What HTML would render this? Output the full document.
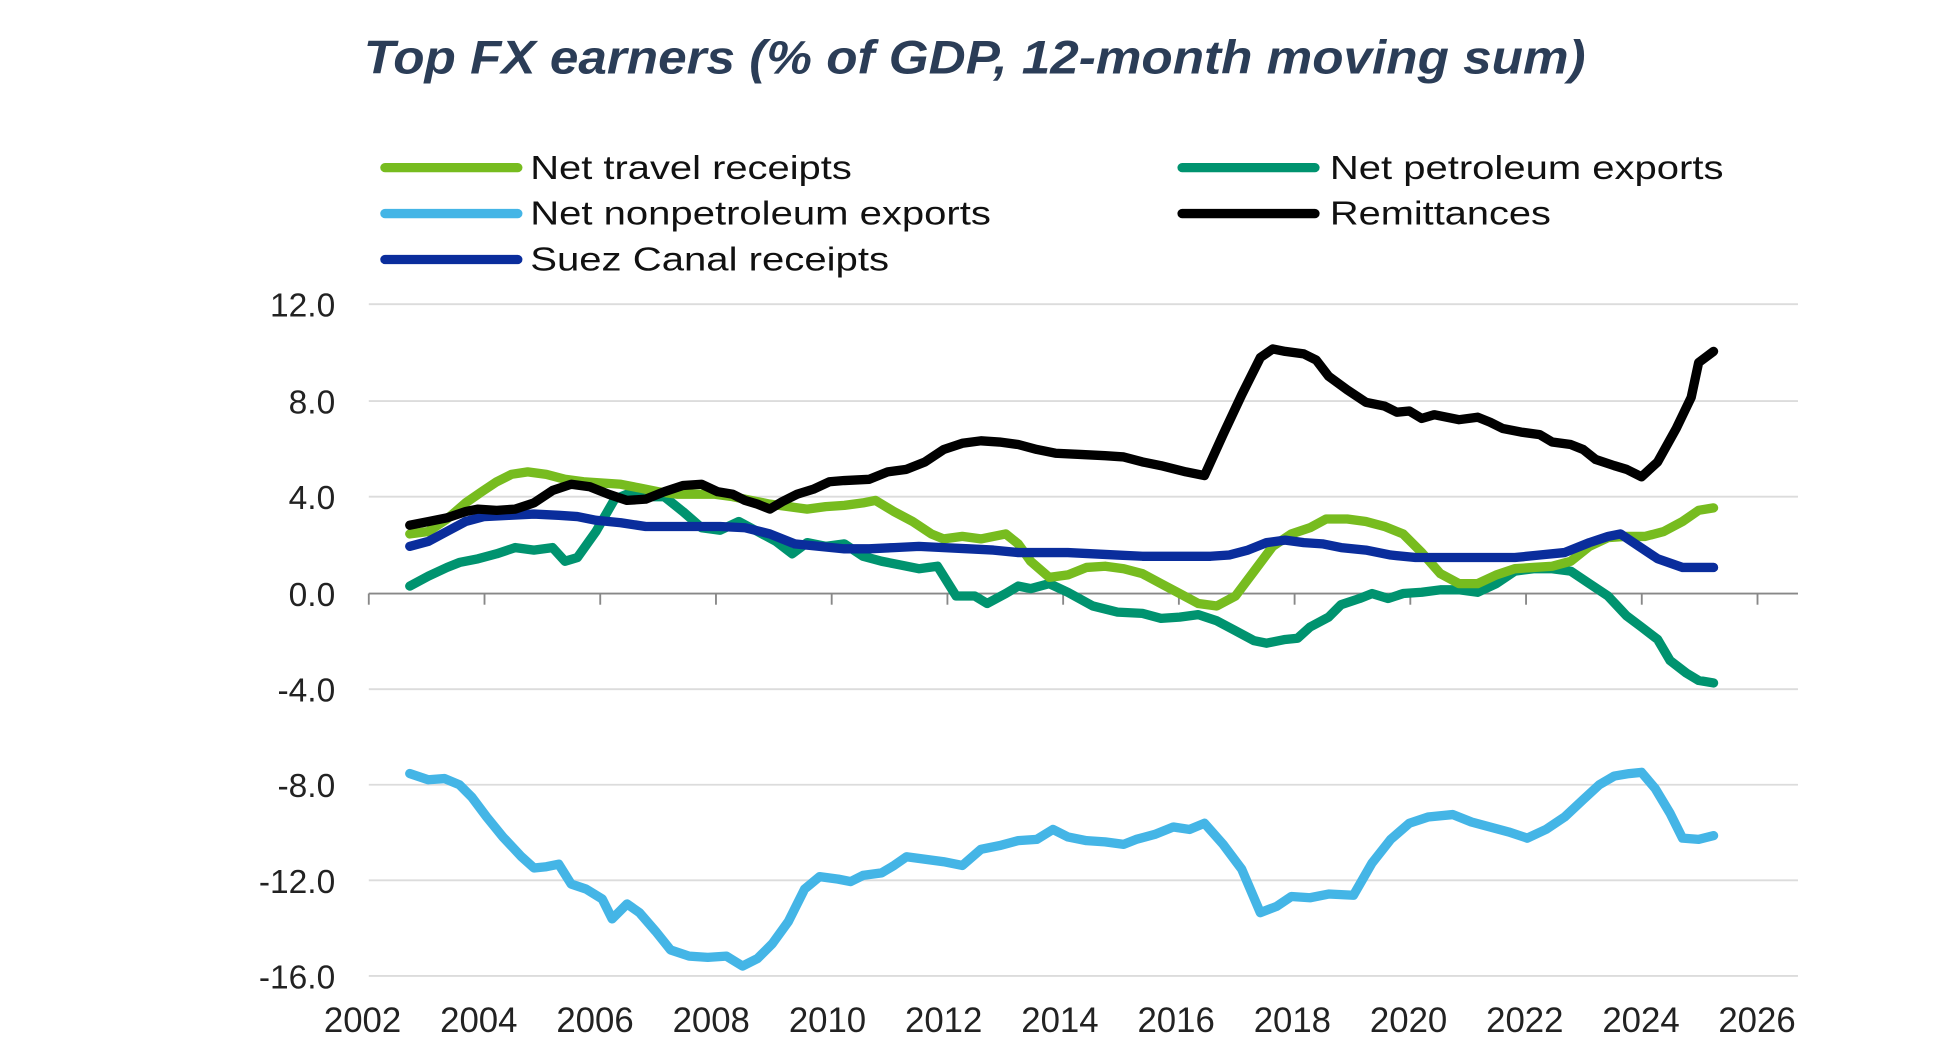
<!DOCTYPE html>
<html><head><meta charset="utf-8"><style>html,body{margin:0;padding:0;background:#fff}svg{display:block}</style></head>
<body>
<svg width="1947" height="1054" viewBox="0 0 1947 1054" xmlns="http://www.w3.org/2000/svg">
<rect width="1947" height="1054" fill="#fff"/>
<g transform="scale(1.2417)" font-family="Liberation Sans, Arial, sans-serif">
<text x="785" y="59" text-anchor="middle" font-size="38" font-weight="bold" font-style="italic" fill="#2b3d57" textLength="984" lengthAdjust="spacingAndGlyphs">Top FX earners (% of GDP, 12-month moving sum)</text>
<g stroke-width="7.5" stroke-linecap="round">
<line x1="310" y1="135" x2="417" y2="135" stroke="#77bc1f"/>
<line x1="310" y1="172" x2="417" y2="172" stroke="#44b5e6"/>
<line x1="310" y1="209" x2="417" y2="209" stroke="#0a2d9c"/>
<line x1="952" y1="135" x2="1059" y2="135" stroke="#00936f"/>
<line x1="952" y1="172" x2="1059" y2="172" stroke="#000"/>
</g>
<g font-size="27" fill="#111">
<text x="427" y="144" textLength="259" lengthAdjust="spacingAndGlyphs">Net travel receipts</text>
<text x="427" y="181" textLength="371" lengthAdjust="spacingAndGlyphs">Net nonpetroleum exports</text>
<text x="427" y="218" textLength="289" lengthAdjust="spacingAndGlyphs">Suez Canal receipts</text>
<text x="1071" y="144" textLength="317" lengthAdjust="spacingAndGlyphs">Net petroleum exports</text>
<text x="1071" y="181" textLength="178" lengthAdjust="spacingAndGlyphs">Remittances</text>
</g>
<g stroke="#dcdcdc" stroke-width="1.5">
<line x1="297" y1="245" x2="1448" y2="245"/><line x1="297" y1="323" x2="1448" y2="323"/>
<line x1="297" y1="400" x2="1448" y2="400"/><line x1="297" y1="555" x2="1448" y2="555"/>
<line x1="297" y1="632" x2="1448" y2="632"/><line x1="297" y1="709" x2="1448" y2="709"/>
<line x1="297" y1="786" x2="1448" y2="786"/>
</g>
<g stroke="#888" stroke-width="1.5">
<line x1="297" y1="478" x2="1448" y2="478"/>
<line x1="297" y1="478" x2="297" y2="487"/><line x1="390.2" y1="478" x2="390.2" y2="487"/><line x1="483.4" y1="478" x2="483.4" y2="487"/><line x1="576.6" y1="478" x2="576.6" y2="487"/><line x1="669.8" y1="478" x2="669.8" y2="487"/><line x1="763" y1="478" x2="763" y2="487"/><line x1="856.2" y1="478" x2="856.2" y2="487"/><line x1="949.4" y1="478" x2="949.4" y2="487"/><line x1="1042.6" y1="478" x2="1042.6" y2="487"/><line x1="1135.8" y1="478" x2="1135.8" y2="487"/><line x1="1229" y1="478" x2="1229" y2="487"/><line x1="1322.2" y1="478" x2="1322.2" y2="487"/><line x1="1415.4" y1="478" x2="1415.4" y2="487"/>
</g>
<g font-size="27" fill="#222" text-anchor="end">
<text x="270" y="255">12.0</text><text x="270" y="333">8.0</text><text x="270" y="410">4.0</text><text x="270" y="488">0.0</text>
<text x="270" y="565">-4.0</text><text x="270" y="642">-8.0</text><text x="270" y="719">-12.0</text><text x="270" y="796">-16.0</text>
</g>
<g font-size="28" fill="#222" text-anchor="middle">
<text x="292" y="831">2002</text><text x="385.6" y="831">2004</text><text x="479.2" y="831">2006</text><text x="572.8" y="831">2008</text><text x="666.4" y="831">2010</text><text x="760" y="831">2012</text><text x="853.6" y="831">2014</text><text x="947.2" y="831">2016</text><text x="1040.8" y="831">2018</text><text x="1134.4" y="831">2020</text><text x="1228" y="831">2022</text><text x="1321.6" y="831">2024</text><text x="1415" y="831">2026</text>
</g>
<g fill="none" stroke-width="7.5" stroke-linejoin="round" stroke-linecap="round">
<polyline stroke="#44b5e6" points="330,623 345,628 358,627 370,632 380,642 392,658 405,674 420,690 430,699 440,698 450,696 460,712 472,716 485,724 493,740 505,728 515,735 528,750 540,765 555,770 570,771 585,770 598,778 610,772 622,760 635,742 648,716 660,706 675,708 685,710 695,705 710,703 720,697 730,690 745,692 760,694 775,697 790,684 805,681 820,677 835,676 848,668 860,674 875,677 890,678 905,680 915,676 930,672 945,666 958,668 970,663 985,680 1000,700 1015,735 1028,730 1040,722 1055,723 1070,720 1090,721 1105,695 1120,676 1135,663 1150,658 1170,656 1185,662 1200,666 1215,670 1230,675 1245,668 1260,658 1275,644 1288,632 1300,625 1312,623 1322,622 1333,635 1345,655 1355,675 1368,676 1380,673"/>
<polyline stroke="#00936f" points="330,472 345,464 360,457 370,453 385,450 400,446 415,441 430,443 445,441 455,452 465,449 480,428 495,402 510,396 520,400 535,400 550,412 565,425 580,427 595,420 610,428 625,436 638,446 650,437 665,440 680,438 695,448 710,452 725,455 740,458 755,456 770,480 785,480 795,486 810,478 820,472 830,474 845,470 860,477 880,488 900,493 920,494 935,498 950,497 965,495 980,500 995,508 1010,516 1020,518 1035,515 1045,514 1055,505 1070,497 1080,487 1095,482 1105,478 1118,482 1130,478 1145,477 1160,475 1175,475 1190,477 1205,470 1220,460 1235,458 1250,458 1265,460 1280,470 1295,480 1310,496 1322,505 1335,515 1345,532 1358,542 1368,548 1380,550"/>
<polyline stroke="#77bc1f" points="330,430 345,428 360,418 375,405 388,396 400,388 412,382 425,380 440,382 455,386 470,388 485,389 500,390 515,393 530,396 545,398 560,398 575,398 590,400 605,403 620,406 635,408 650,410 665,408 680,407 695,405 705,403 720,412 735,420 750,430 760,434 775,432 790,434 800,432 810,430 820,438 830,452 845,465 860,463 875,457 890,456 905,458 920,462 935,470 950,478 965,486 980,488 995,480 1010,460 1025,440 1040,430 1055,425 1068,418 1085,418 1100,420 1115,424 1130,430 1145,445 1160,462 1175,470 1190,470 1205,463 1220,458 1235,457 1250,456 1265,452 1280,440 1295,433 1310,432 1325,432 1340,428 1355,420 1368,411 1380,409"/>
<polyline stroke="#0a2d9c" points="330,440 345,436 360,428 375,420 390,416 410,415 430,414 450,415 465,416 480,419 500,421 520,424 540,424 560,424 580,424 600,425 620,430 640,438 660,440 680,442 700,442 720,441 740,440 760,441 780,442 800,443 820,445 840,445 860,445 880,446 900,447 920,448 940,448 960,448 975,448 990,447 1005,443 1020,437 1035,435 1050,437 1065,438 1080,441 1100,443 1120,447 1140,449 1160,449 1180,449 1200,449 1220,449 1240,447 1260,445 1280,437 1295,432 1305,430 1320,440 1335,450 1355,457 1380,457"/>
<polyline stroke="#000" points="330,423 345,420 360,417 375,412 385,410 400,411 415,410 430,405 445,395 460,390 475,392 490,398 505,403 520,402 535,396 550,391 565,390 578,396 590,398 600,403 610,406 620,410 630,404 642,398 655,394 668,388 680,387 700,386 715,380 730,378 745,372 760,362 775,357 790,355 805,356 820,358 835,362 850,365 870,366 890,367 905,368 920,372 935,375 955,380 970,383 985,350 1000,318 1015,288 1025,281 1035,283 1050,285 1060,290 1070,303 1085,314 1100,324 1115,327 1125,332 1135,331 1145,337 1155,334 1165,336 1175,338 1190,336 1200,340 1210,345 1225,348 1240,350 1250,356 1265,358 1275,362 1285,370 1300,375 1310,378 1322,384 1335,372 1350,345 1362,320 1368,292 1380,283"/>
</g>
</g>
</svg>
</body></html>
